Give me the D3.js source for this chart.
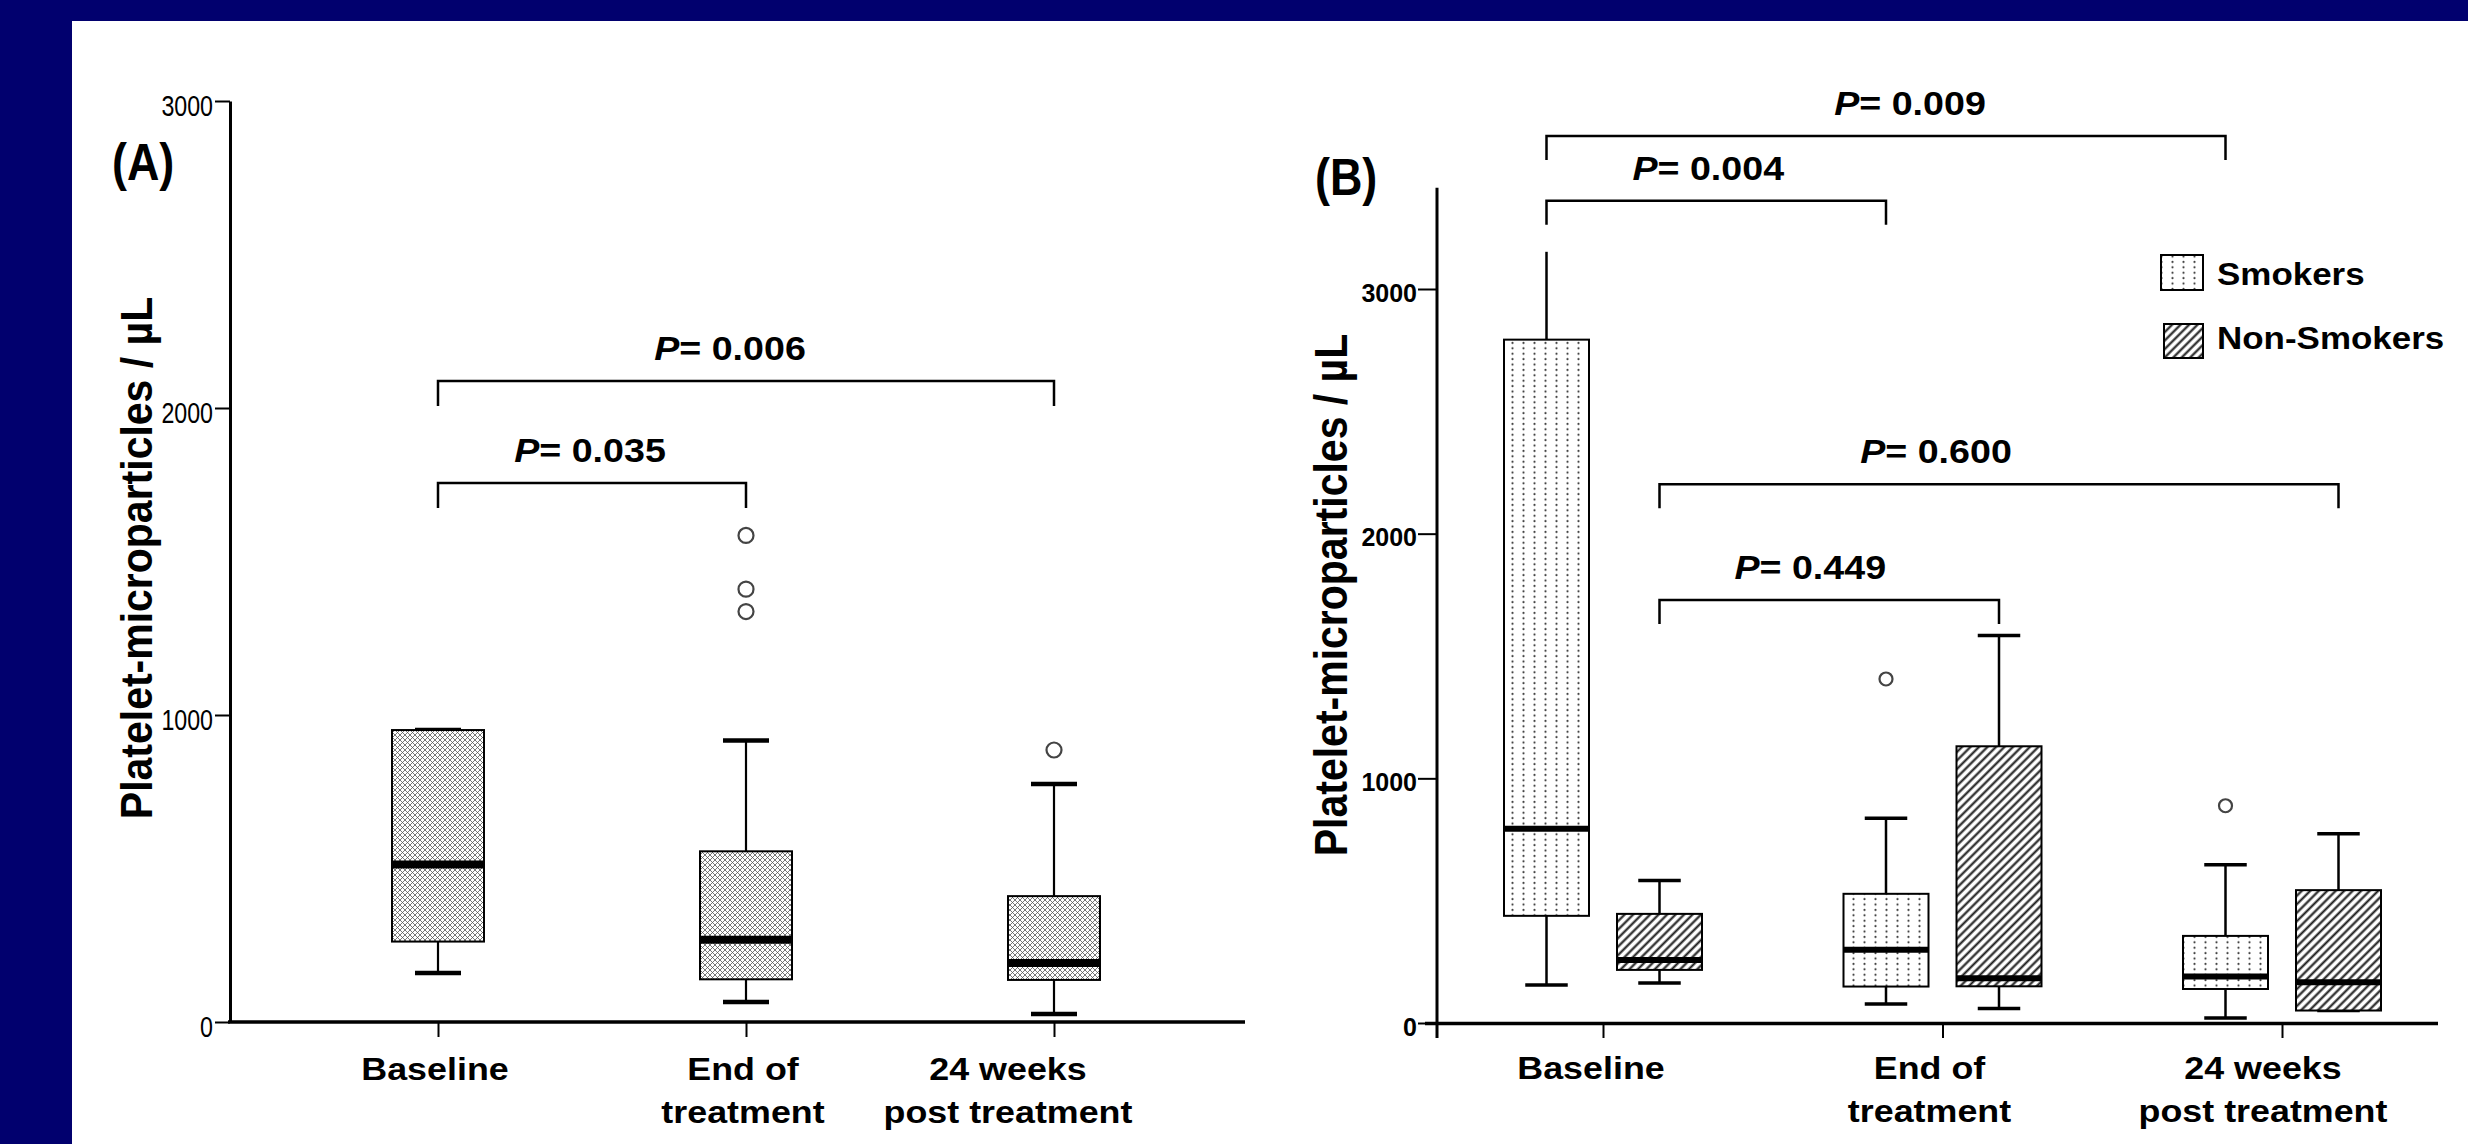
<!DOCTYPE html>
<html><head><meta charset="utf-8">
<script src="https://cdn.jsdelivr.net/npm/d3@7"></script>
<style>
html,body{margin:0;padding:0;background:#01006e;}
svg{display:block;}
text{font-family:"Liberation Sans", Arial, Helvetica, sans-serif;fill:#000;}
</style></head><body>
<svg id="chart" width="2468" height="1144"></svg>
<script>
// ================= DATA =================
const categories = ["Baseline", "End of treatment", "24 weeks post treatment"];
const categoryLines = [["Baseline"], ["End of", "treatment"], ["24 weeks", "post treatment"]];

// Panel A – all patients: five-number summaries per time point
const panelA_low      = [160, 65, 26];
const panelA_q1       = [262, 139, 137];
const panelA_median   = [513, 268, 192];
const panelA_q3       = [951, 556, 410];
const panelA_high     = [951, 917, 775];
const panelA_outliers = [[], [1337, 1410, 1585], [886]];

// Panel B – smokers vs non-smokers
const groupsB = ["Smokers", "Non-Smokers"];
const smokers_low      = [155, 78, 20];
const smokers_q1       = [438, 149, 139];
const smokers_median   = [794, 299, 190];
const smokers_q3       = [2793, 528, 356];
const smokers_high     = [3152, 837, 647];
const smokers_outliers = [[], [1406], [888]];

const nonSmokers_low      = [163, 59, 51];
const nonSmokers_q1       = [217, 150, 51];
const nonSmokers_median   = [257, 183, 167];
const nonSmokers_q3       = [446, 1131, 543];
const nonSmokers_high     = [582, 1584, 774];
const nonSmokers_outliers = [[], [], []];

const ticksA = [0, 1000, 2000, 3000];
const ticksB = [0, 1000, 2000, 3000];

// significance comparisons (category indexes)
const compA = [
  {from: 0, to: 2, p: "0.006"},
  {from: 0, to: 1, p: "0.035"}
];
const compB = [
  {group: "Smokers",     from: 0, to: 2, p: "0.009"},
  {group: "Smokers",     from: 0, to: 1, p: "0.004"},
  {group: "Non-Smokers", from: 0, to: 2, p: "0.600"},
  {group: "Non-Smokers", from: 0, to: 1, p: "0.449"}
];

// ================= LAYOUT / STYLE =================
const svg = d3.select("#chart");
const W = 2468, H = 1144;
const fmt = d3.format("d");

// navy frame + white panel
svg.append("rect").attr("x",0).attr("y",0).attr("width",W).attr("height",H).attr("fill","#01006e");
svg.append("rect").attr("x",72).attr("y",21).attr("width",W-72).attr("height",H-21).attr("fill","#ffffff");

// patterns
const defs = svg.append("defs");
const pA = defs.append("pattern").attr("id","patA").attr("patternUnits","userSpaceOnUse")
  .attr("width",5).attr("height",5);
pA.append("rect").attr("width",5).attr("height",5).attr("fill","#fff");
pA.append("path").attr("d","M0,0 L5,5 M5,0 L0,5 M-1,4 L1,6 M4,-1 L6,1 M-1,1 L1,-1 M4,6 L6,4")
  .attr("stroke","#555").attr("stroke-width",0.8).attr("fill","none");

const pS = defs.append("pattern").attr("id","patS").attr("patternUnits","userSpaceOnUse")
  .attr("width",11).attr("height",5.4);
pS.append("rect").attr("width",11).attr("height",5.4).attr("fill","#fff");
pS.append("circle").attr("cx",5.5).attr("cy",2.7).attr("r",1.05).attr("fill","#444");

const pN = defs.append("pattern").attr("id","patN").attr("patternUnits","userSpaceOnUse")
  .attr("width",6).attr("height",6).attr("patternTransform","rotate(45)");
pN.append("rect").attr("width",6).attr("height",6).attr("fill","#fff");
pN.append("line").attr("x1",1.5).attr("y1",-1).attr("x2",1.5).attr("y2",7)
  .attr("stroke","#1a1a1a").attr("stroke-width",2.1);

// helper: horizontally stretched text (the figure is slightly stretched)
function stretchedText(g, x, y, sx){
  return g.append("g").attr("transform",`translate(${x},${y}) scale(${sx},1)`).append("text");
}

function pLabel(g, cx, baseline){
  return stretchedText(g, cx, baseline, 1.14)
    .attr("text-anchor","middle").attr("font-size",33).attr("font-weight","bold");
}

function drawBox(g, cx, w, low, q1, med, q3, high, outl, y, opt){
  const capW = w/2;
  g.append("line").attr("x1",cx).attr("x2",cx).attr("y1",y(q3)).attr("y2",y(high))
    .attr("stroke","#000").attr("stroke-width",opt.whisker);
  g.append("line").attr("x1",cx).attr("x2",cx).attr("y1",y(q1)).attr("y2",y(low))
    .attr("stroke","#000").attr("stroke-width",opt.whisker);
  if (opt.capHigh !== false)
    g.append("line").attr("x1",cx-capW/2).attr("x2",cx+capW/2).attr("y1",y(high)).attr("y2",y(high))
      .attr("stroke","#000").attr("stroke-width",opt.cap);
  g.append("line").attr("x1",cx-capW/2).attr("x2",cx+capW/2).attr("y1",y(low)).attr("y2",y(low))
    .attr("stroke","#000").attr("stroke-width",opt.cap);
  g.append("rect").attr("x",cx-w/2).attr("y",y(q3)).attr("width",w).attr("height",y(q1)-y(q3))
    .attr("fill",opt.fill).attr("stroke","#000").attr("stroke-width",2);
  g.append("line").attr("x1",cx-w/2).attr("x2",cx+w/2).attr("y1",y(med)).attr("y2",y(med))
    .attr("stroke","#000").attr("stroke-width",opt.median);
  outl.forEach(v=>{
    g.append("ellipse").attr("cx",cx).attr("cy",y(v)).attr("rx",opt.r).attr("ry",opt.r)
      .attr("fill","#fff").attr("stroke","#444").attr("stroke-width",2.2);
  });
}

function bracket(g, x1, x2, yy, drop){
  g.append("path").attr("d",`M${x1},${yy+drop} L${x1},${yy} L${x2},${yy} L${x2},${yy+drop}`)
    .attr("fill","none").attr("stroke","#000").attr("stroke-width",2.5);
}

// ================= PANEL A =================
const gA = svg.append("g");
const xA = d3.scalePoint().domain(categories).range([438, 1054]);
const yA = d3.scaleLinear().domain([0, 3000]).range([1022, 101]);

const axA = gA.append("g").attr("transform","translate(230,0)")
  .call(d3.axisLeft(yA).tickValues(ticksA).tickFormat(fmt).tickSize(15).tickSizeOuter(0).tickPadding(2));
axA.select(".domain").attr("stroke","#000").attr("stroke-width",3);
axA.selectAll(".tick line").attr("stroke","#000").attr("stroke-width",2);
axA.selectAll(".tick text").attr("x",0).attr("dy",null)
  .attr("transform","translate(-17,14) scale(0.8,1)")
  .attr("font-size",29).attr("font-family","Liberation Sans, Arial, sans-serif").attr("fill","#111");

gA.append("line").attr("x1",228).attr("x2",1245).attr("y1",1022).attr("y2",1022)
  .attr("stroke","#000").attr("stroke-width",3.5);
const axAx = gA.append("g").attr("transform","translate(0,1022)")
  .call(d3.axisBottom(xA).tickSize(15).tickSizeOuter(0).tickFormat(""));
axAx.select(".domain").remove();
axAx.selectAll(".tick line").attr("stroke","#000").attr("stroke-width",2);

const labelDxA = [-3, -3, -46];
categories.forEach((c,i)=>{
  categoryLines[i].forEach((ln,j)=>{
    stretchedText(gA, xA(c)+labelDxA[i], 1080 + j*43, 1.12)
      .attr("text-anchor","middle").attr("font-size",32).attr("font-weight","bold").text(ln);
  });
});

gA.append("text").attr("transform","translate(152,558) scale(1.1,1) rotate(-90)")
  .attr("text-anchor","middle").attr("font-size",41).attr("font-weight","bold")
  .text("Platelet-microparticles / µL");

stretchedText(gA, 112, 180, 0.88).attr("font-size",51).attr("font-weight","bold").text("(A)");

categories.forEach((c,i)=>{
  drawBox(gA, xA(c), 92, panelA_low[i], panelA_q1[i], panelA_median[i], panelA_q3[i], panelA_high[i],
    panelA_outliers[i], yA, {fill:"url(#patA)", whisker:2.2, cap:4.5, median:8, r:7.5});
});

const levelsA = [381, 483];
const textDxA = [-16, -2];
compA.forEach((cp,k)=>{
  const x1 = xA(categories[cp.from]), x2 = xA(categories[cp.to]);
  bracket(gA, x1, x2, levelsA[k], 25);
  const t = pLabel(gA, (x1+x2)/2 + textDxA[k], levelsA[k]-21);
  t.append("tspan").attr("font-style","italic").text("P");
  t.append("tspan").text("= " + cp.p);
});

// ================= PANEL B =================
const gB = svg.append("g");
const xB = d3.scalePoint().domain(categories).range([1603, 2282]);
const xSub = d3.scaleBand().domain(groupsB).range([-113, 113]);
const yB = d3.scaleLinear().domain([0, 3000]).range([1023, 289]);
const yTopB = 3414;

gB.append("line").attr("x1",1437).attr("x2",1437).attr("y1",yB(yTopB)).attr("y2",1038)
  .attr("stroke","#000").attr("stroke-width",3);
const axB = gB.append("g").attr("transform","translate(1437,0)")
  .call(d3.axisLeft(yB).tickValues(ticksB).tickFormat(fmt).tickSize(19).tickSizeOuter(0).tickPadding(2));
axB.select(".domain").remove();
axB.selectAll(".tick line").attr("stroke","#000").attr("stroke-width",2);
axB.selectAll(".tick text").attr("x",-20).attr("dy",null).attr("y",12)
  .attr("font-size",25).attr("font-weight","bold").attr("fill","#111")
  .attr("font-family","Liberation Sans, Arial, sans-serif");

gB.append("line").attr("x1",1425).attr("x2",2438).attr("y1",1023.5).attr("y2",1023.5)
  .attr("stroke","#000").attr("stroke-width",3.5);
const axBx = gB.append("g").attr("transform","translate(0,1023)")
  .call(d3.axisBottom(xB).tickSize(15).tickSizeOuter(0).tickFormat(""));
axBx.select(".domain").remove();
axBx.selectAll(".tick line").attr("stroke","#000").attr("stroke-width",2);

const labelDxB = [-12, -13, -19];
categories.forEach((c,i)=>{
  categoryLines[i].forEach((ln,j)=>{
    stretchedText(gB, xB(c)+labelDxB[i], 1079 + j*43, 1.12)
      .attr("text-anchor","middle").attr("font-size",32).attr("font-weight","bold").text(ln);
  });
});

gB.append("text").attr("transform","translate(1347,595) scale(1.12,1) rotate(-90)")
  .attr("text-anchor","middle").attr("font-size",41).attr("font-weight","bold")
  .text("Platelet-microparticles / µL");

stretchedText(gB, 1315, 195, 0.88).attr("font-size",51).attr("font-weight","bold").text("(B)");

const seriesB = [
  {name:"Smokers", fill:"url(#patS)", low:smokers_low, q1:smokers_q1, med:smokers_median,
   q3:smokers_q3, high:smokers_high, out:smokers_outliers},
  {name:"Non-Smokers", fill:"url(#patN)", low:nonSmokers_low, q1:nonSmokers_q1, med:nonSmokers_median,
   q3:nonSmokers_q3, high:nonSmokers_high, out:nonSmokers_outliers}
];
seriesB.forEach(s=>{
  categories.forEach((c,i)=>{
    const cx = xB(c) + xSub(s.name) + xSub.bandwidth()/2;
    drawBox(gB, cx, 85, s.low[i], s.q1[i], s.med[i], s.q3[i], s.high[i], s.out[i], yB,
      {fill:s.fill, whisker:2.5, cap:3.5, median:6, r:6.5,
       capHigh: !(s.name==="Smokers" && i===0)});
  });
});

const levelsB = [136, 200.7, 484.3, 600];
const textDxB = [24, -8, -63, -19];
compB.forEach((cp,k)=>{
  const off = xSub(cp.group) + xSub.bandwidth()/2;
  const x1 = xB(categories[cp.from]) + off, x2 = xB(categories[cp.to]) + off;
  bracket(gB, x1, x2, levelsB[k], 24);
  const t = pLabel(gB, (x1+x2)/2 + textDxB[k], levelsB[k]-21);
  t.append("tspan").attr("font-style","italic").text("P");
  t.append("tspan").text("= " + cp.p);
});

const legend = gB.append("g");
const legendRows = [
  {name: groupsB[0], fill:"url(#patS)", x:2161, y:255, w:42, h:35, ty:285},
  {name: groupsB[1], fill:"url(#patN)", x:2164, y:324, w:39, h:34, ty:349}
];
legendRows.forEach(r=>{
  legend.append("rect").attr("x",r.x).attr("y",r.y).attr("width",r.w).attr("height",r.h)
    .attr("fill",r.fill).attr("stroke","#000").attr("stroke-width",2);
  stretchedText(legend, 2217, r.ty, 1.11).attr("font-size",31.5).attr("font-weight","bold").text(r.name);
});
</script>
</body></html>
